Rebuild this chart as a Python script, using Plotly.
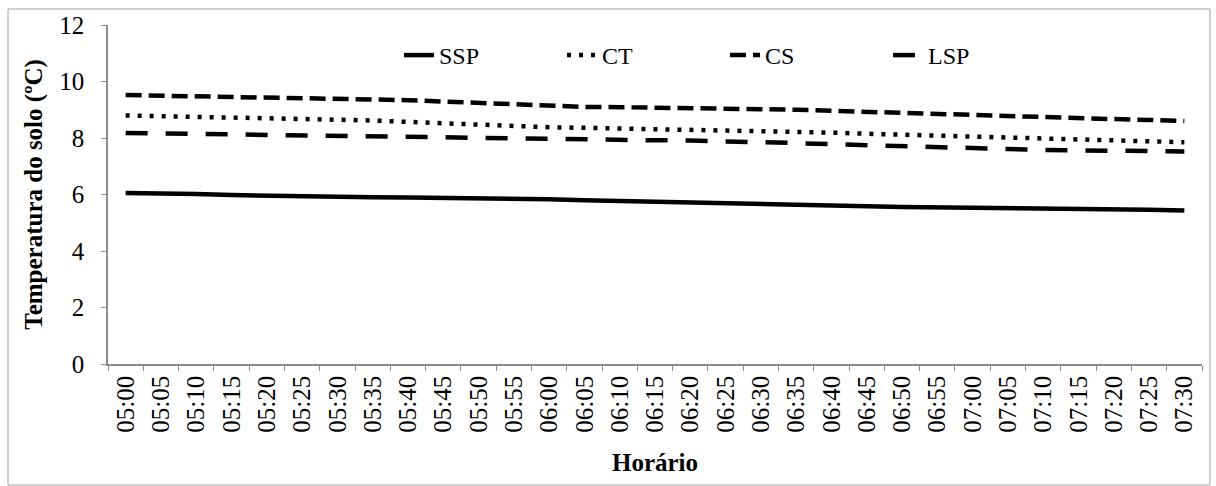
import plotly.graph_objects as go

times = ["05:00","05:05","05:10","05:15","05:20","05:25","05:30","05:35","05:40","05:45",
         "05:50","05:55","06:00","06:05","06:10","06:15","06:20","06:25","06:30","06:35",
         "06:40","06:45","06:50","06:55","07:00","07:05","07:10","07:15","07:20","07:25","07:30"]

ssp = [6.05, 6.04, 6.02, 5.98, 5.95, 5.93, 5.91, 5.90, 5.89, 5.88, 5.87, 5.85, 5.83, 5.80, 5.77, 5.73,
       5.71, 5.68, 5.65, 5.62, 5.60, 5.58, 5.56, 5.55, 5.53, 5.52, 5.50, 5.50, 5.49, 5.46, 5.43]
ct = [8.80, 8.78, 8.76, 8.74, 8.71, 8.69, 8.66, 8.62, 8.57, 8.52, 8.47, 8.42, 8.38, 8.36, 8.34, 8.32,
      8.30, 8.28, 8.25, 8.22, 8.19, 8.15, 8.12, 8.09, 8.06, 8.02, 7.98, 7.94, 7.91, 7.88, 7.85]
cs = [9.52, 9.50, 9.49, 9.47, 9.45, 9.43, 9.41, 9.38, 9.34, 9.29, 9.24, 9.19, 9.13, 9.10, 9.09, 9.08,
      9.07, 9.05, 9.02, 9.00, 8.96, 8.92, 8.88, 8.85, 8.82, 8.78, 8.74, 8.70, 8.67, 8.64, 8.60]
lsp = [8.18, 8.16, 8.14, 8.12, 8.10, 8.09, 8.08, 8.07, 8.06, 8.04, 8.00, 7.97, 7.95, 7.94, 7.93, 7.92,
       7.91, 7.89, 7.86, 7.82, 7.78, 7.74, 7.70, 7.67, 7.64, 7.61, 7.58, 7.56, 7.55, 7.54, 7.52]

series = [("SSP", ssp, "solid"), ("CT", ct, "4px,8px"), ("CS", cs, "16px,7px"), ("LSP", lsp, "22px,18px")]

FONT = "Liberation Serif, Times New Roman, serif"
fig = go.Figure()
for name, vals, dash in series:
    fig.add_trace(go.Scatter(x=times, y=vals, name=name, mode="lines",
                             line=dict(color="black", width=4.5, dash=dash)))

axis_color = "#8c8c8c"
fig.update_layout(
    width=1216, height=486,
    margin=dict(l=108, r=14, t=25, b=122),
    paper_bgcolor="white", plot_bgcolor="white",
    font=dict(family=FONT, color="black", size=25),
    showlegend=True,
    legend=dict(orientation="h", x=0.266, y=0.91, xanchor="left", yanchor="middle",
                font=dict(family=FONT, size=24), entrywidth=118, entrywidthmode="pixels",
                bgcolor="rgba(0,0,0,0)", traceorder="normal"),
    xaxis=dict(type="category", range=[-0.5, 30.5], showgrid=False, showline=True,
               linecolor=axis_color, linewidth=1.5, ticks="outside", tickson="boundaries",
               ticklen=5, tickcolor=axis_color, tickangle=-90,
               tickfont=dict(family=FONT, size=25),
               title=dict(text="<b>Horário</b>", font=dict(family=FONT, size=25), standoff=22)),
    yaxis=dict(range=[0, 12], dtick=2, showgrid=False, showline=True, zeroline=False,
               linecolor=axis_color, linewidth=1.5, ticks="outside", ticklen=5,
               tickcolor=axis_color, tickfont=dict(family=FONT, size=25),
               ticklabelstandoff=12,
               title=dict(text="<b>Temperatura do solo (ºC)</b>", font=dict(family=FONT, size=25),
                          standoff=10)),
    shapes=[dict(type="rect", xref="paper", yref="paper",
                 x0=-0.0914, x1=1.0073, y0=-0.357, y1=1.0472,
                 line=dict(color="#a0a0a0", width=1))],
)

fig.write_html("out.html")
